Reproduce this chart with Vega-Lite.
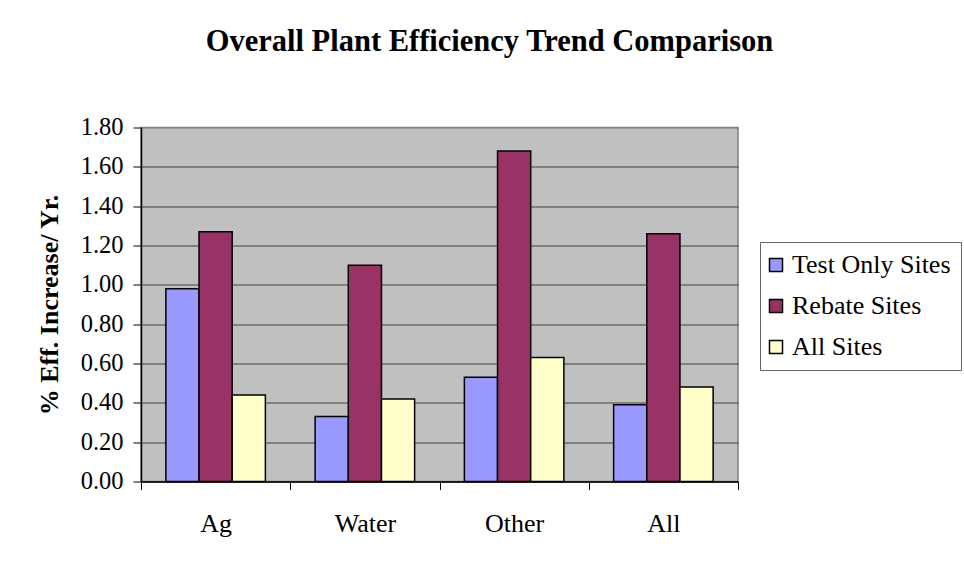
{
  "$schema": "https://vega.github.io/schema/vega-lite/v6.json",
  "width": 597,
  "height": 354,
  "autosize": {"type": "none"},
  "padding": {"left": 141, "top": 127.5, "right": 226, "bottom": 79.5},
  "background": "white",
  "title": {
    "text": "Overall Plant Efficiency Trend Comparison",
    "font": "Liberation Serif",
    "fontSize": 30.5,
    "fontWeight": "bold",
    "color": "black",
    "anchor": "middle",
    "frame": "group",
    "dx": 50,
    "offset": 57
  },
  "data": {
    "values": [
      {"region": "Ag", "group": "Test Only Sites", "value": 0.98},
      {"region": "Ag", "group": "Rebate Sites", "value": 1.27},
      {"region": "Ag", "group": "All Sites", "value": 0.44},
      {"region": "Water", "group": "Test Only Sites", "value": 0.33},
      {"region": "Water", "group": "Rebate Sites", "value": 1.10},
      {"region": "Water", "group": "All Sites", "value": 0.42},
      {"region": "Other", "group": "Test Only Sites", "value": 0.53},
      {"region": "Other", "group": "Rebate Sites", "value": 1.68},
      {"region": "Other", "group": "All Sites", "value": 0.63},
      {"region": "All", "group": "Test Only Sites", "value": 0.39},
      {"region": "All", "group": "Rebate Sites", "value": 1.26},
      {"region": "All", "group": "All Sites", "value": 0.48}
    ]
  },
  "mark": {"type": "bar", "stroke": "black", "strokeWidth": 1.5},
  "encoding": {
    "x": {
      "field": "region",
      "type": "nominal",
      "sort": ["Ag", "Water", "Other", "All"],
      "scale": {"paddingInner": 0, "paddingOuter": 0},
      "axis": {
        "title": null,
        "labelAngle": 0,
        "labelFont": "Liberation Serif",
        "labelFontSize": 26,
        "labelColor": "black",
        "labelPadding": 21,
        "domainColor": "black",
        "domainWidth": 1.5,
        "tickColor": "black",
        "tickSize": 8,
        "tickBand": "extent",
        "grid": false
      }
    },
    "xOffset": {
      "field": "group",
      "type": "nominal",
      "sort": ["Test Only Sites", "Rebate Sites", "All Sites"],
      "scale": {"paddingInner": 0, "paddingOuter": 0.75}
    },
    "y": {
      "field": "value",
      "type": "quantitative",
      "scale": {"domain": [0, 1.8], "nice": false},
      "axis": {
        "values": [0, 0.2, 0.4, 0.6, 0.8, 1.0, 1.2, 1.4, 1.6, 1.8],
        "format": ".2f",
        "title": "% Eff. Increase/ Yr.",
        "titleFont": "Liberation Serif",
        "titleFontSize": 26,
        "titleFontWeight": "bold",
        "titleColor": "black",
        "titlePadding": 18,
        "labelFont": "Liberation Serif",
        "labelFontSize": 24.5,
        "labelColor": "black",
        "labelPadding": 10,
        "domainColor": "black",
        "domainWidth": 1.5,
        "tickColor": "black",
        "tickSize": 8,
        "grid": true,
        "gridColor": {"condition": {"test": "datum.value >= 1.8", "value": "#808080"}, "value": "#404040"},
        "gridWidth": 1.2
      }
    },
    "color": {
      "field": "group",
      "type": "nominal",
      "scale": {
        "domain": ["Test Only Sites", "Rebate Sites", "All Sites"],
        "range": ["#9999FF", "#993366", "#FFFFCC"]
      },
      "legend": {
        "title": null,
        "orient": "none",
        "legendX": 619,
        "legendY": 114.5,
        "labelFont": "Liberation Serif",
        "labelFontSize": 26,
        "labelColor": "black",
        "labelLimit": 300,
        "labelOffset": 3,
        "symbolType": "square",
        "symbolSize": 169,
        "symbolOffset": -7,
        "symbolStrokeColor": "black",
        "symbolStrokeWidth": 1.5,
        "symbolOpacity": 1,
        "strokeColor": "#666666",
        "fillColor": "white",
        "padding": 10,
        "rowPadding": 15,
        "cornerRadius": 0
      }
    }
  },
  "config": {
    "font": "Liberation Serif",
    "legend": {"labelFont": "Liberation Serif"},
    "view": {"fill": "#C0C0C0", "stroke": "#808080", "strokeWidth": 1.5}
  }
}
